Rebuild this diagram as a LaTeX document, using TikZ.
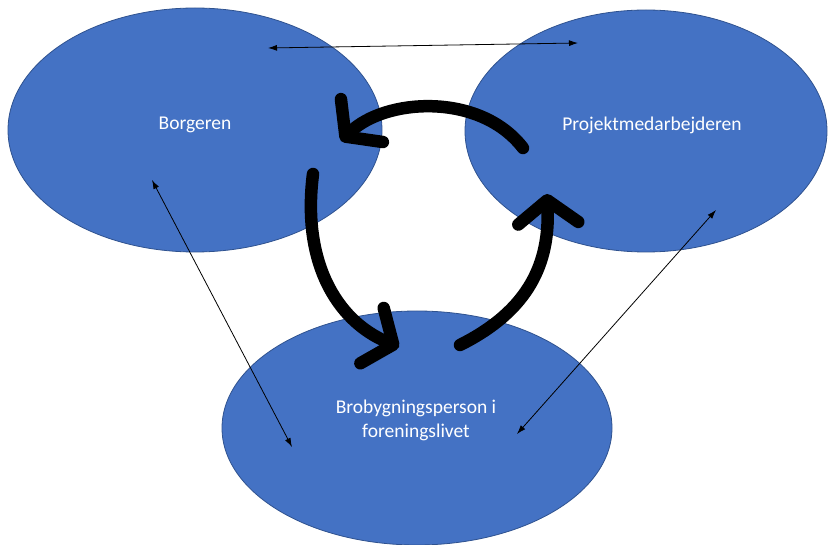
\documentclass[tikz,border=0pt]{standalone}
\usepackage{fontspec}
\setmainfont{Carlito}
\usetikzlibrary{shapes.geometric,arrows.meta}
\definecolor{blobfill}{HTML}{4472C4}
\definecolor{blobline}{HTML}{2F528F}
\tikzset{
  blob/.style={ellipse, draw=blobline, line width=0.8pt, fill=blobfill, inner sep=0pt},
  tekst/.style={text=white, align=center, font=\fontsize{19.5}{24}\selectfont},
  tynd/.style={line width=0.8pt, {Latex[length=9pt,width=6pt]}-{Latex[length=9pt,width=6pt]}},
  tyk/.style={line width=12.5pt, line cap=round, -{Straight Barb[length=23pt,width=60pt,round]}}
}
\begin{document}
\begin{tikzpicture}[x=1pt,y=-1pt]
				\useasboundingbox (0,0) rectangle (828,545);
				% de tre aktoerer
				\node[blob, minimum width=374pt, minimum height=244pt] (borger) at (195,130) {};
				\node[blob, minimum width=362pt, minimum height=242pt] (projekt) at (646,131) {};
				\node[blob, minimum width=390pt, minimum height=234pt] (bro) at (417,428) {};
				\node[tekst] (borgertxt) at (195,125) {Borgeren};
				\node[tekst] (projekttxt) at (652,125) {Projektmedarbejderen};
				\node[tekst] (brotxt) at (416,420) {Brobygningsperson i\\foreningslivet};
				\path
				(268,48) coordinate (T1) (578,43) coordinate (T2)
				(152,180) coordinate (V1) (292,447) coordinate (V2)
				(716,210) coordinate (H1) (517,434) coordinate (H2)
				(523,148) coordinate (A1) (341,141) coordinate (A2)
				(313,174) coordinate (B1) (399,347) coordinate (B2)
				(460,345) coordinate (C1) (547,194) coordinate (C2)
				;
				\draw[tynd] (T1)--(T2);
				\draw[tynd] (V1)--(V2);
				\draw[tynd] (H1)--(H2);
				% kredsloebet
				\draw[tyk] (A1) .. controls (480,92) and (385,98) .. (A2);
				\draw[tyk] (B1) .. controls (302,260) and (335,320) .. (B2);
				\draw[tyk] (C1) .. controls (530,310) and (550,262) .. (C2);
\end{tikzpicture}
\end{document}
